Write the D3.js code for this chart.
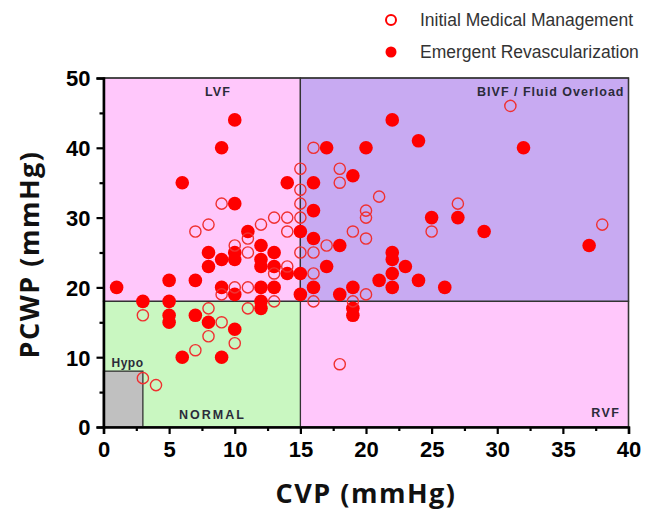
<!DOCTYPE html>
<html>
<head>
<meta charset="utf-8">
<script src="https://cdn.jsdelivr.net/npm/d3@7"></script>
<style>
  body { margin: 0; background: #fff; }
  svg text { font-family: "Liberation Sans", Arial, sans-serif; }
</style>
</head>
<body>
<div id="chart"></div>
<script>
// Initial Medical Management (open circles) : [CVP, PCWP]
var initialMgmt = [
  [15, 37], [15, 34], [16, 40], [31, 46], [18, 37], [18, 35], [21, 33], [27, 32],
  [9, 32], [15, 32], [8, 29], [7, 28], [12, 29], [13, 30], [14, 30], [15, 30],
  [14, 28], [11, 27], [10, 26], [11, 25], [15, 25], [16, 25], [20, 31], [20, 30],
  [38, 29], [19, 28], [25, 28], [20, 27], [17, 26], [14, 23], [13, 22], [16, 22],
  [10, 20], [11, 20], [9, 19], [13, 18], [16, 18], [20, 19], [19, 18], [11, 17],
  [8, 17], [3, 16], [9, 15], [8, 13], [10, 12], [7, 11], [3, 7], [4, 6], [18, 9]
];

// Emergent Revascularization (filled circles) : [CVP, PCWP]
var emergentRevasc = [
  [10, 44], [9, 40], [6, 35], [14, 35], [16, 35], [22, 44], [24, 41], [32, 40],
  [17, 40], [20, 40], [19, 36], [10, 32], [16, 31], [11, 28], [15, 28], [12, 26],
  [8, 25], [10, 25], [13, 25], [9, 24], [10, 24], [12, 24], [8, 23], [12, 23],
  [13, 23], [14, 22], [15, 22], [5, 21], [7, 21], [1, 20], [9, 20], [12, 20],
  [13, 20], [10, 19], [15, 19], [3, 18], [5, 18], [12, 18], [12, 17], [25, 30],
  [27, 30], [29, 28], [16, 27], [37, 26], [18, 26], [22, 25], [22, 24], [17, 23],
  [23, 23], [22, 22], [21, 21], [24, 21], [16, 20], [19, 20], [22, 20], [26, 20],
  [18, 19], [19, 17], [19, 16], [5, 16], [5, 15], [7, 16], [8, 15], [10, 14],
  [6, 10], [9, 10]
];

var xTicks = [0, 5, 10, 15, 20, 25, 30, 35, 40];
var yTicks = [0, 10, 20, 30, 40, 50];

// hemodynamic zones: [x0, x1, y0, y1]
var zoneNames = ["LVF", "BIVF", "RVF", "NORMAL", "Hypo"];
var zoneBounds = [[0, 15, 18, 50], [15, 40, 18, 50], [15, 40, 0, 18], [0, 15, 0, 18], [0, 3, 0, 8]];
var zoneColors = ["#ffc7fb", "#c8aaf2", "#ffc7fb", "#c9f7c1", "#c0c0c0"];

var width = 647, height = 510;
var margin = { top: 78, right: 18.5, bottom: 83, left: 103.5 };

var svg = d3.select("#chart").append("svg")
  .attr("width", width)
  .attr("height", height);

var x = d3.scaleLinear().domain([0, 40]).range([margin.left, width - margin.right]);
var y = d3.scaleLinear().domain([0, 50]).range([height - margin.bottom, margin.top]);

// zone backgrounds
svg.selectAll("rect.zone")
  .data(zoneBounds)
  .enter()
  .append("rect")
  .attr("class", "zone")
  .attr("x", function (d) { return x(d[0]); })
  .attr("y", function (d) { return y(d[3]); })
  .attr("width", function (d) { return x(d[1]) - x(d[0]); })
  .attr("height", function (d) { return y(d[2]) - y(d[3]); })
  .attr("fill", function (d, i) { return zoneColors[i]; })
  .attr("stroke", "#333")
  .attr("stroke-width", 1.3);

// frame
svg.append("rect")
  .attr("x", x(0)).attr("y", y(50))
  .attr("width", x(40) - x(0)).attr("height", y(0) - y(50))
  .attr("fill", "none").attr("stroke", "#333").attr("stroke-width", 1.3);

// zone labels
var zl = svg.append("g").attr("fill", "#2b2b3a").style("font-weight", "bold")
  .style("font-size", "12.5px").style("letter-spacing", "1px");
zl.append("text").attr("x", x(7.5) + 16).attr("y", y(50) + 18).attr("text-anchor", "middle").text("LVF");
zl.append("text").attr("x", x(40) - 4).attr("y", y(50) + 18).attr("text-anchor", "end")
  .text("BIVF / Fluid Overload");
zl.append("text").attr("x", x(40) - 8).attr("y", y(0) - 10).attr("text-anchor", "end")
  .style("letter-spacing", "1.5px").text("RVF");
zl.append("text").attr("x", x(8.3)).attr("y", y(0) - 8).attr("text-anchor", "middle")
  .style("letter-spacing", "2px").text("NORMAL");
zl.append("text").attr("x", x(0) + 8).attr("y", y(8) - 4).style("font-size", "12px")
  .style("letter-spacing", "0.5px").text("Hypo");

// points
svg.append("g").selectAll("circle")
  .data(emergentRevasc)
  .enter()
  .append("circle")
  .attr("cx", function (d) { return x(d[0]); })
  .attr("cy", function (d) { return y(d[1]); })
  .attr("r", 6.8)
  .attr("fill", "#ff0000");

svg.append("g").selectAll("circle")
  .data(initialMgmt)
  .enter()
  .append("circle")
  .attr("cx", function (d) { return x(d[0]); })
  .attr("cy", function (d) { return y(d[1]); })
  .attr("r", 5.6)
  .attr("fill", "none")
  .attr("stroke", "#f03030")
  .attr("stroke-width", 1.4);

// axes
var xAxis = svg.append("g")
  .attr("transform", "translate(0," + y(0) + ")")
  .call(d3.axisBottom(x).tickValues(xTicks).tickSize(7).tickPadding(6).tickFormat(d3.format("d")));
svg.append("g")
  .attr("transform", "translate(0," + y(0) + ")")
  .call(d3.axisBottom(x).tickValues(d3.range(2.5, 40, 5)).tickSize(4).tickFormat(""))
  .call(function (g) { g.select(".domain").remove(); });

var yAxis = svg.append("g")
  .attr("transform", "translate(" + x(0) + ",0)")
  .call(d3.axisLeft(y).tickValues(yTicks).tickSize(7).tickPadding(6).tickFormat(d3.format("d")));
svg.append("g")
  .attr("transform", "translate(" + x(0) + ",0)")
  .call(d3.axisLeft(y).tickValues(d3.range(5, 50, 10)).tickSize(4).tickFormat(""))
  .call(function (g) { g.select(".domain").remove(); });

svg.selectAll(".domain").attr("stroke", "#000").attr("stroke-width", 2.5);
svg.selectAll(".tick line").attr("stroke", "#000").attr("stroke-width", 2.2);
svg.selectAll(".tick text")
  .style("font-size", "22px").style("font-weight", "bold").attr("fill", "#000");
xAxis.selectAll(".tick text").attr("dy", "0.78em");
yAxis.selectAll(".tick text").attr("dy", "0.36em");

// axis titles
svg.append("text")
  .attr("x", (x(0) + x(40)) / 2)
  .attr("y", 503)
  .attr("text-anchor", "middle")
  .style("font-family", "'Open Sans', sans-serif")
  .style("font-size", "27px").style("font-weight", "bold").attr("fill", "#111")
  .style("letter-spacing", "1.5px")
  .text("CVP (mmHg)");

svg.append("text")
  .attr("transform", "translate(39," + (y(25) + 2) + ") rotate(-90)")
  .attr("text-anchor", "middle")
  .style("font-family", "'Open Sans', sans-serif")
  .style("font-size", "27px").style("font-weight", "bold").attr("fill", "#111")
  .style("letter-spacing", "1.5px")
  .text("PCWP (mmHg)");

// legend
var legend = svg.append("g");
legend.append("circle").attr("cx", 391).attr("cy", 20).attr("r", 5)
  .attr("fill", "none").attr("stroke", "#f00").attr("stroke-width", 2);
legend.append("circle").attr("cx", 391).attr("cy", 52).attr("r", 5.5).attr("fill", "#f00");
legend.append("text").attr("x", 420).attr("y", 26).style("font-size", "17.5px").attr("fill", "#333")
  .text("Initial Medical Management");
legend.append("text").attr("x", 420).attr("y", 58).style("font-size", "17.5px").attr("fill", "#333")
  .text("Emergent Revascularization");
</script>
</body>
</html>
